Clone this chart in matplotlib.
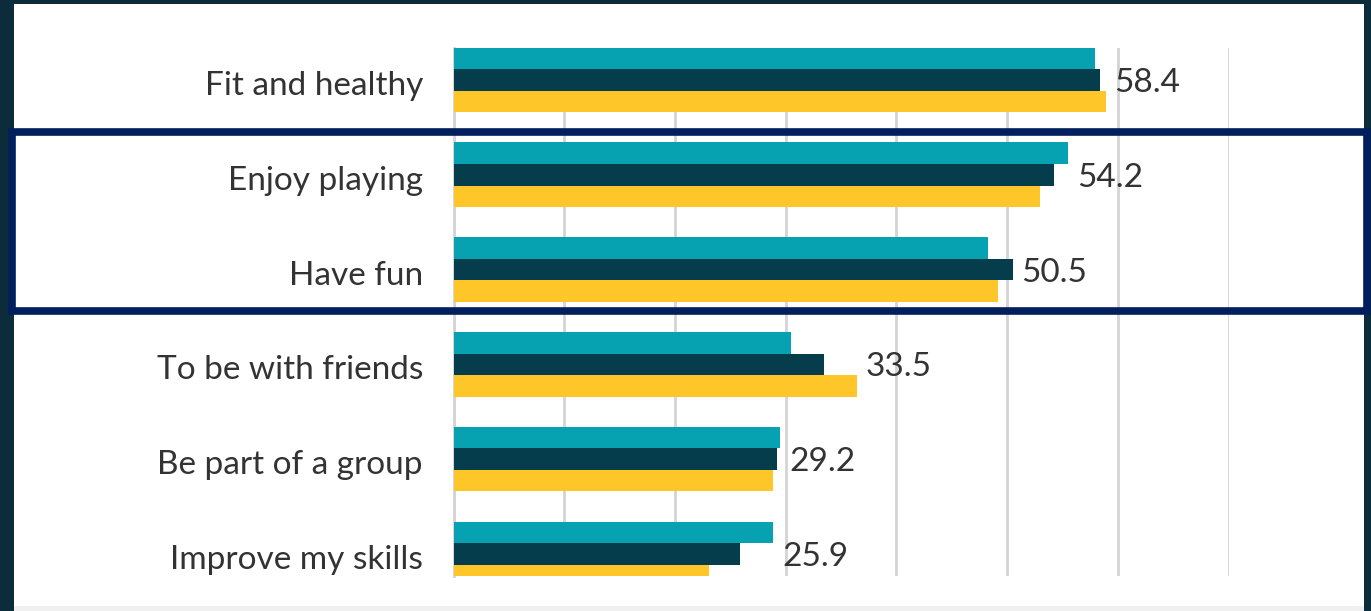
import matplotlib
matplotlib.use("Agg")
import matplotlib.pyplot as plt
import matplotlib.transforms as mtransforms
from matplotlib.patches import Rectangle
import numpy as np

categories = ["Fit and healthy", "Enjoy playing", "Have fun",
              "To be with friends", "Be part of a group", "Improve my skills"]
teal_vals = [57.9, 55.5, 48.3, 30.5, 29.5, 28.9]
dark_vals = [58.4, 54.2, 50.5, 33.5, 29.2, 25.9]
yellow_vals = [58.9, 53.0, 49.2, 36.4, 28.9, 23.1]
labels = ["58.4", "54.2", "50.5", "33.5", "29.2", "25.9"]

teal = "#07a2b1"
dark = "#063d4c"
yellow = "#ffc629"
grid_col = "#d4d4d4"

plt.rcParams["font.family"] = ["Lato", "DejaVu Sans"]

fig = plt.figure(figsize=(13.71, 6.11), dpi=100)
fig.patch.set_facecolor("#0c2b3b")

# white page with dark frame around it
W, H = 1371, 611
fig.add_artist(Rectangle((14 / W, 0), (1364 - 14) / W, (H - 4) / H, transform=fig.transFigure,
                         facecolor="white", edgecolor="none", zorder=-10))
fig.add_artist(Rectangle((14 / W, 0), (1364 - 14) / W, 5 / H, transform=fig.transFigure,
                         facecolor="#f0f0f0", edgecolor="none", zorder=-9))

ax = fig.add_axes([453.5 / W, 1 - 576 / H, (1228.5 - 453.5) / W, (576 - 48) / H])
ax.set_facecolor("none")

y = np.arange(len(categories))
h = 0.227
ax.barh(y - h, teal_vals, height=h, color=teal, zorder=3)
ax.barh(y, dark_vals, height=h, color=dark, zorder=3)
ax.barh(y + h, yellow_vals, height=h, color=yellow, zorder=3)

for i, lab in enumerate(labels):
    xm = max(teal_vals[i], dark_vals[i], yellow_vals[i])
    ax.annotate(lab, (xm, y[i]), xytext=(9, -3), textcoords="offset pixels",
                va="center", ha="left", fontsize=24, color="#333333", zorder=4)

ax.set_xlim(0, 70)
ax.set_ylim(len(categories) - 1 + 0.232, -0.337)
ax.set_xticks(np.arange(0, 71, 10))
ax.xaxis.grid(True, color=grid_col, linewidth=2, zorder=0)
ax.tick_params(axis="x", length=0, labelbottom=False)
ax.set_yticks(y)
ax.set_yticklabels(categories, fontsize=24, color="#333333")
ax.tick_params(axis="y", length=0, pad=22)
shift = mtransforms.ScaledTranslation(0, -3 / 100, fig.dpi_scale_trans)
for t in ax.get_yticklabels():
    t.set_transform(t.get_transform() + shift)
for s in ["top", "right", "bottom"]:
    ax.spines[s].set_visible(False)
ax.spines["left"].set_color(grid_col)
ax.spines["left"].set_linewidth(2)

# highlight box around the two middle categories
fig.add_artist(Rectangle((11.5 / W, 1 - 311 / H), (1367 - 11.5) / W, (311 - 132) / H,
                         transform=fig.transFigure, facecolor="none", edgecolor="#001f5c",
                         linewidth=5.5, zorder=10))

fig.savefig("out.png", dpi=100, facecolor=fig.get_facecolor())
